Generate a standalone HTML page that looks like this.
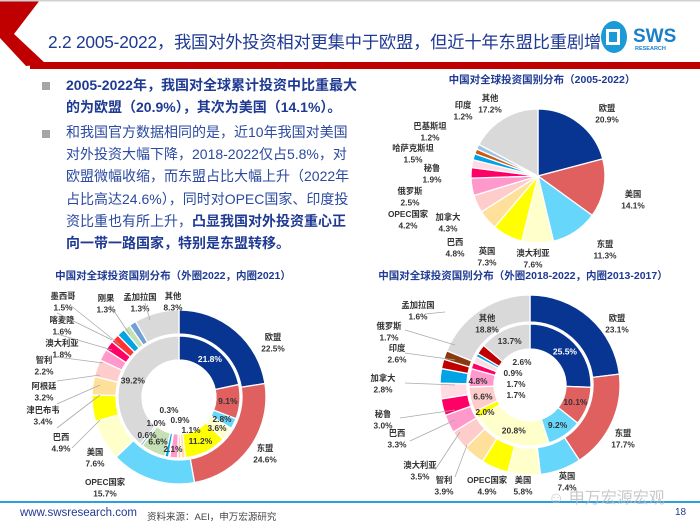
<!DOCTYPE html>
<html><head><meta charset="utf-8"><style>
*{margin:0;padding:0;box-sizing:border-box}
body{width:700px;height:526px;overflow:hidden;background:#fff;position:relative;font-family:"Liberation Sans","Noto Sans CJK SC",sans-serif}
.abs{position:absolute}
#title{left:48px;top:28px;font-size:17.3px;color:#1f3a93;white-space:nowrap;letter-spacing:-0.2px}
.bl{position:absolute;left:66px;width:292px;font-size:14px;line-height:22.2px;color:#1f3a93}
.sq{position:absolute;left:42px;width:8px;height:8px;background:#a6a6a6}
.ct{position:absolute;font-size:10.5px;font-weight:bold;color:#1f3a93;white-space:nowrap;transform:translateX(-50%)}
svg text{font-family:"Liberation Sans","Noto Sans CJK SC",sans-serif}
</style></head><body>
<svg class="abs" style="left:0;top:0" width="700" height="70">
<polygon points="0,0 40,0 14,34 46,64 26,66 0,38" fill="#c00000"/>
<rect x="30" y="62" width="670" height="7" fill="#c00000"/>
<rect x="0" y="0" width="700" height="1.5" fill="#d0d0d0"/>
</svg>
<div id="title" class="abs">2.2 2005-2022，我国对外投资相对更集中于欧盟，但近十年东盟比重剧增</div>
<div class="abs" style="left:600px;top:20px">
<svg width="90" height="34"><ellipse cx="14" cy="17" rx="13" ry="16" fill="#1a9ad6"/><rect x="6" y="9" width="14" height="16" fill="#fff"/><rect x="9" y="12" width="8" height="10" fill="#1a9ad6"/>
<text x="33" y="22" font-size="19" font-weight="bold" fill="#1a7fc8">SWS</text><text x="35" y="30" font-size="5.5" font-weight="bold" fill="#1a7fc8">RESEARCH</text></svg></div>

<div class="sq" style="top:82px"></div>
<div class="bl" style="top:74px;font-weight:bold">2005-2022年，我国对全球累计投资中比重最大的为欧盟（20.9%），其次为美国（14.1%）。</div>
<div class="sq" style="top:130px"></div>
<div class="bl" style="top:121px;color:#2b4aa0">和我国官方数据相同的是，近10年我国对美国对外投资大幅下降，2018-2022仅占5.8%，对欧盟微幅收缩，而东盟占比大幅上升（2022年占比高达24.6%），同时对OPEC国家、印度投资比重也有所上升，<b style="color:#1f3a93">凸显我国对外投资重心正向一带一路国家，特别是东盟转移。</b></div>

<div class="ct" style="left:542px;top:72px">中国对全球投资国别分布（2005-2022）</div>
<div class="ct" style="left:173px;top:268px">中国对全球投资国别分布（外圈2022，内圈2021）</div>
<div class="ct" style="left:523px;top:268px">中国对全球投资国别分布（外圈2018-2022，内圈2013-2017）</div>

<svg id="charts" class="abs" style="left:0;top:0" width="700" height="526"></svg>

<div class="abs" style="left:0;top:501px;width:700px;height:1.5px;background:#2aa0e0"></div>
<div class="abs" style="left:20px;top:507px;font-size:11.5px;color:#1f3a93">www.swsresearch.com</div>
<div class="abs" style="left:147px;top:509px;font-size:9.5px;color:#444">资料来源：AEI，申万宏源研究</div>
<div class="abs" style="left:675px;top:507px;font-size:10px;color:#1f3a93">18</div>
<div class="abs" style="left:548px;top:484px;font-size:16px;color:#bbb;opacity:.8">☺ 申万宏源宏观</div>

<script>
const C={navy:"#083592",red:"#e06060",lb:"#66d6fb",ly:"#ffffcc",y:"#ffff00",po:"#ffe09a",lp:"#ffcccc",pk:"#ff99cc",mg:"#ff0066",vlp:"#ffdce3",bl:"#00a3e6",or:"#cc5a10",st:"#99c2e6",gr:"#d9d9d9",red2:"#ff3333",grn:"#c5e0b4",st2:"#6fa0d8",dr:"#c00000",br:"#8b3a0f"};
// chart 1 (2005-2022)
const c1Names=["欧盟","美国","东盟","澳大利亚","英国","巴西","加拿大","OPEC国家","俄罗斯","秘鲁","哈萨克斯坦","巴基斯坦","印度","其他"];
const c1Values=[20.9,14.1,11.3,7.6,7.3,4.8,4.3,4.2,2.5,1.9,1.5,1.2,1.2,17.2];
// chart 2 outer 2022
const c2OuterNames=["欧盟","东盟","OPEC国家","美国","巴西","津巴布韦","阿根廷","智利","澳大利亚","喀麦隆","墨西哥","刚果","孟加拉国","其他"];
const c2OuterValues=[22.5,24.6,15.7,7.6,4.9,3.4,3.2,2.2,1.8,1.6,1.5,1.3,1.3,8.3];
// chart 2 inner 2021
const c2InnerValues=[21.8,9.1,2.8,3.6,11.2,1.1,0.9,2.1,0.3,1.0,6.6,0.6,39.2];
// chart 3 outer 2018-2022
const c3OuterNames=["欧盟","东盟","英国","美国","OPEC国家","智利","澳大利亚","巴西","秘鲁","加拿大","印度","俄罗斯","孟加拉国","其他"];
const c3OuterValues=[23.1,17.7,7.4,5.8,4.9,3.9,3.5,3.3,3.0,2.8,2.6,1.7,1.6,18.8];
// chart 3 inner 2013-2017
const c3InnerValues=[25.5,10.1,9.2,20.8,2.0,6.6,4.8,1.7,1.7,0.9,2.6,13.7];

const c1Colors=[C.navy,C.red,C.lb,C.ly,C.y,C.po,C.lp,C.pk,C.mg,C.vlp,C.bl,C.or,C.st,C.gr];
const c2OColors=[C.navy,C.red,C.lb,C.ly,C.y,C.po,C.lp,C.pk,C.mg,C.red2,C.bl,C.grn,C.st2,C.gr];
const c2IColors=[C.navy,C.red,C.lb,C.ly,C.y,C.po,C.lp,C.pk,C.vlp,C.bl,C.grn,C.st2,C.gr];
const c3OColors=[C.navy,C.red,C.lb,C.ly,C.y,C.po,C.lp,C.pk,C.mg,C.vlp,C.bl,C.dr,C.br,C.gr];
const c3IColors=[C.navy,C.red,C.lb,C.ly,C.y,C.lp,C.pk,C.mg,C.vlp,C.bl,C.dr,C.gr];

const NS="http://www.w3.org/2000/svg";
const svg=document.getElementById("charts");
function pt(cx,cy,r,a){return [cx+r*Math.sin(a),cy-r*Math.cos(a)];}
function donut(cx,cy,r0,r1,vals,cols,name,labelMin,whiteFirst){
  const tot=vals.reduce((s,v)=>s+v,0);let a=0;
  vals.forEach((v,i)=>{
    const a2=a+v/tot*2*Math.PI;const lg=(a2-a)>Math.PI?1:0;
    const p1=pt(cx,cy,r1,a),p2=pt(cx,cy,r1,a2);
    let d;
    if(r0>0){const p3=pt(cx,cy,r0,a2),p4=pt(cx,cy,r0,a);
      d=`M${p1}A${r1},${r1} 0 ${lg} 1 ${p2}L${p3}A${r0},${r0} 0 ${lg} 0 ${p4}Z`;}
    else d=`M${cx},${cy}L${p1}A${r1},${r1} 0 ${lg} 1 ${p2}Z`;
    const el=document.createElementNS(NS,"path");
    el.setAttribute("d",d);el.setAttribute("fill",cols[i]);el.setAttribute("stroke","#fff");el.setAttribute("stroke-width","1.3");
    
    
    svg.appendChild(el);
    if(labelMin&&v>=labelMin){
      const m=(a+a2)/2,p=pt(cx,cy,(r0+r1)/2,m);
      const t=document.createElementNS(NS,"text");
      t.setAttribute("x",p[0]);t.setAttribute("y",p[1]+3);t.setAttribute("text-anchor","middle");
      t.setAttribute("font-size","8.5");t.setAttribute("font-weight","bold");
      t.setAttribute("fill",(whiteFirst&&i===0)?"#fff":"#333");
      t.textContent=v.toFixed(1)+"%";
      
      
      svg.appendChild(t);
    }
    a=a2;
  });
}
donut(538,176,0,67,c1Values,c1Colors,"chart1",0,false);
donut(179,397,63,87,c2OuterValues,c2OColors,"chart2-outer",0,false);
donut(179,397,37,61,c2InnerValues,c2IColors,"chart2-inner",5,true);
donut(530,385,63,90,c3OuterValues,c3OColors,"chart3-outer",0,false);
donut(530,385,36,61,c3InnerValues,c3IColors,"chart3-inner",5,true);

function lab(x,y,name,val,nm){
  const t=document.createElementNS(NS,"text");
  t.setAttribute("x",x);t.setAttribute("y",y);t.setAttribute("text-anchor","middle");
  t.setAttribute("font-size","8.3");t.setAttribute("font-weight","bold");t.setAttribute("fill","#333");
  if(name){const s1=document.createElementNS(NS,"tspan");s1.setAttribute("x",x);s1.textContent=name;t.appendChild(s1);}
  const s2=document.createElementNS(NS,"tspan");s2.setAttribute("x",x);s2.setAttribute("dy",name?"11.5":"0");s2.textContent=val;t.appendChild(s2);
  
  
  svg.appendChild(t);
}
const L1=[[607,111],[633,197],[605,247],[533,256],[487,254],[455,245],[448,220],[408,217],[410,194],[432,171],[413,151],[430,129],[463,108],[490,101]];
c1Names.forEach((n,i)=>lab(L1[i][0],L1[i][1],n,c1Values[i].toFixed(1)+"%","chart1-label"));
const L2=[[273,340],[265,451],[105,485],[95,455],[61,440],[43,413],[44,389],[44,363],[62,346],[62,323],[63,299],[106,301],[140,300],[173,299]];
c2OuterNames.forEach((n,i)=>lab(L2[i][0],L2[i][1],n,c2OuterValues[i].toFixed(1)+"%","chart2-label"));
const L3=[[617,321],[623,436],[567,479],[523,483],[487,483],[444,483],[420,468],[397,436],[383,417],[383,381],[397,351],[389,329],[418,308],[487,321]];
c3OuterNames.forEach((n,i)=>lab(L3[i][0],L3[i][1],n,c3OuterValues[i].toFixed(1)+"%","chart3-label"));
[[222,422,2],[217,431,3],[191,433,5],[180,423,6],[173,452,7],[169,413,8],[156,426,9],[147,438,11]].forEach(s=>lab(s[0],s[1],null,c2InnerValues[s[2]].toFixed(1)+"%","chart2-inner-small-label"));
[[485,415,4],[478,384,6],[516,387,7],[516,398,8],[513,376,9],[522,365,10]].forEach(s=>lab(s[0],s[1],null,c3InnerValues[s[2]].toFixed(1)+"%","chart3-inner-small-label"));
[[57,313,112,340],[57,334,112,350],[57,357,103,363],[57,381,100,375],[57,404,100,385],[57,428,100,395],[72,448,100,420],[70,305,120,345],[110,305,130,335],[145,303,150,320],[405,330,455,345],[405,353,455,360],[405,383,455,385],[400,418,455,410],[410,441,455,420],[435,470,460,432],[455,477,467,445],[425,314,445,312]].forEach(l=>{
  const e=document.createElementNS(NS,"line");
  e.setAttribute("x1",l[0]);e.setAttribute("y1",l[1]);e.setAttribute("x2",l[2]);e.setAttribute("y2",l[3]);
  e.setAttribute("stroke","#aaa");e.setAttribute("stroke-width","0.8");
  
  
  svg.appendChild(e);
});
</script>
</body></html>
